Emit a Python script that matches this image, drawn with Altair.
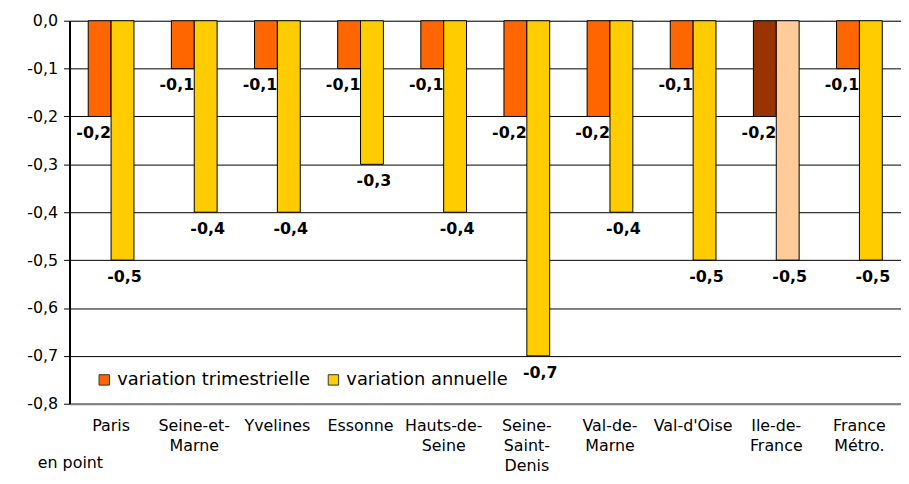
import altair as alt
import pandas as pd

cats = ["Paris", "Seine-et-|Marne", "Yvelines", "Essonne", "Hauts-de-|Seine",
        "Seine-|Saint-|Denis", "Val-de-|Marne", "Val-d'Oise", "Ile-de-|France", "France|Métro."]
trim = [-0.2, -0.1, -0.1, -0.1, -0.1, -0.2, -0.2, -0.1, -0.2, -0.1]
annu = [-0.5, -0.4, -0.4, -0.3, -0.4, -0.7, -0.4, -0.5, -0.5, -0.5]
S1 = "variation trimestrielle"
S2 = "variation annuelle"
keys = [S1, S2, "IDF trim", "IDF annu"]
colors = ["#FF6600", "#FFCC00", "#993300", "#FFCC99"]

rows = []
for c, t, a in zip(cats, trim, annu):
    idf = c.startswith("Ile")
    for s, v in ((S1, t), (S2, a)):
        key = s if not idf else ("IDF trim" if s == S1 else "IDF annu")
        rows.append({"cat": c, "series": s, "value": v, "key": key,
                     "label": ("-" if v < 0 else "") + "0," + str(round(abs(v) * 10))})
df = pd.DataFrame(rows)

FONT = "DejaVu Sans"
W, H = 838, 386
PI, PO = 0.45, 0.225

x = alt.X("cat:N", sort=cats, title=None,
          scale=alt.Scale(paddingInner=PI, paddingOuter=PO),
          axis=alt.Axis(orient="bottom", labelExpr="split(datum.value, '|')", labelAngle=0,
                        labelFontSize=16, labelFont=FONT, labelColor="black",
                        labelLineHeight=20, labelPadding=14, ticks=False,
                        domainColor="#808080", domainWidth=2, labelBaseline="top"))
xo = alt.XOffset("series:N", sort=[S1, S2], scale=alt.Scale(paddingInner=0, paddingOuter=0))
y = alt.Y("value:Q", title=None,
          scale=alt.Scale(domain=[-0.8, 0], nice=False),
          axis=alt.Axis(values=[0, -0.1, -0.2, -0.3, -0.4, -0.5, -0.6, -0.7, -0.8],
                        labelExpr="(datum.value < 0 ? '-' : '') + '0,' + round(abs(datum.value) * 10)",
                        labelFontSize=16, labelFont=FONT, labelColor="black",
                        grid=True, gridColor="black", gridWidth=1,
                        domainColor="black", domainWidth=2, tickColor="black",
                        tickSize=6, labelPadding=6))

base = alt.Chart(df)

bars = base.mark_bar(stroke="black", strokeWidth=1).encode(
    x=x, xOffset=xo, y=y,
    fill=alt.Fill("key:N", scale=alt.Scale(domain=keys, range=colors),
                  legend=alt.Legend(values=[S1, S2], title=None, orient="none",
                                    legendX=26, legendY=353, direction="horizontal",
                                    symbolType="square", symbolSize=110,
                                    symbolStrokeColor="#333333", symbolStrokeWidth=1,
                                    labelFontSize=18, labelFont=FONT, labelColor="black",
                                    columnPadding=14, labelOffset=4, labelLimit=400)),
)

xl = alt.X("cat:N", sort=cats)
lab1 = base.transform_filter(alt.datum.series == S1).mark_text(
    dy=17, dx=-6, fontWeight="bold", fontSize=16, font=FONT, color="black").encode(
    x=xl, xOffset=xo, y="value:Q", text="label:N")
lab2 = base.transform_filter(alt.datum.series == S2).mark_text(
    dy=17, dx=2, fontWeight="bold", fontSize=16, font=FONT, color="black").encode(
    x=xl, xOffset=xo, y="value:Q", text="label:N")

note = alt.Chart(pd.DataFrame({"t": ["en point"]})).mark_text(
    fontSize=16, font=FONT, color="black", align="left", baseline="middle").encode(
    x=alt.value(-32), y=alt.value(446), text="t:N")

chart = alt.layer(bars, lab1, lab2, note).properties(
    width=W, height=H,
    autosize=alt.AutoSizeParams(type="none"),
    padding={"left": 62, "top": 11, "right": 0, "bottom": 70},
).configure_view(stroke=None).configure(background="white")

chart.save("out.html", embed_options={"renderer": "svg", "actions": False})
